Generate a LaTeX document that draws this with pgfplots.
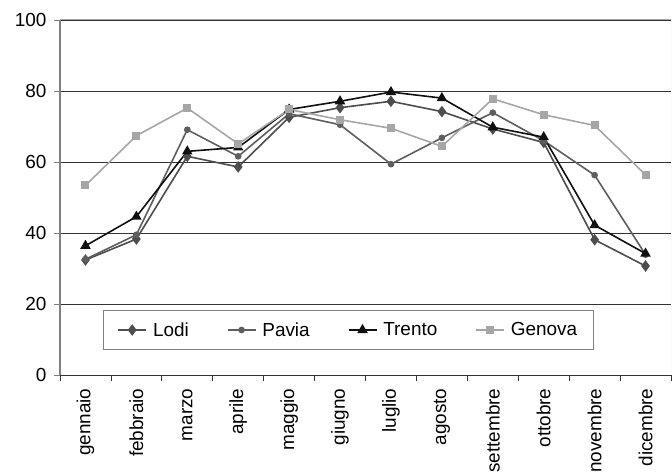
\documentclass[border=0pt]{standalone}
\usepackage{pgfplots}
\pgfplotsset{compat=1.18}
\usepackage{fontspec}
\setmainfont{Liberation Sans}

\definecolor{lodicol}{HTML}{4D4D4D}
\definecolor{paviacol}{HTML}{5E5E5E}
\definecolor{trentocol}{HTML}{101010}
\definecolor{genovacol}{HTML}{A6A6A6}

\begin{document}
\begin{tikzpicture}
\path[use as bounding box] (0bp,0bp) rectangle (672bp,473bp);
\begin{axis}[
  at={(60bp,98bp)}, anchor=south west,
  scale only axis,
  width=611bp, height=355bp,
  xmin=-0.5, xmax=11.5,
  ymin=0, ymax=100,
  ytick={0,20,...,100},
  xtick={0,...,11},
  xticklabels={gennaio,febbraio,marzo,aprile,maggio,giugno,luglio,agosto,settembre,ottobre,novembre,dicembre},
  minor xtick={-0.5,0.5,...,11.5},
  major x tick style={draw=none},
  minor x tick style={draw=black!80, line width=0.8bp},
  minor tick length=6bp,
  major tick length=6bp,
  tick align=outside,
  y tick style={draw=gray, line width=0.8bp},
  ymajorgrids,
  major grid style={draw=black!80, line width=0.8bp},
  axis x line*=bottom,
  axis y line*=left,
  x axis line style={draw=black!80, line width=0.8bp, -},
  y axis line style={draw=gray, line width=1.5bp, -},
  tick label style={font=\fontsize{19}{22}\selectfont},
  /pgf/number format/assume math mode=true,
  xticklabel style={rotate=90, anchor=east, yshift=0bp, xshift=-4bp},
  yticklabel style={xshift=-4bp},
  every axis plot/.append style={line width=1.6bp},
  legend columns=4,
  legend style={
    at={(rel axis cs:0.0704,0.0704)}, anchor=south west,
    draw=gray, line width=0.8bp,
    font=\fontsize{19}{22}\selectfont,
    inner xsep=14bp, inner ysep=10bp,
    /tikz/every odd column/.append style={column sep=4bp},
    /tikz/every even column/.append style={column sep=36bp},
  },
  legend cell align=left,
  legend image code/.code={\draw[mark repeat=2,mark phase=2,line width=1.6bp] plot coordinates {(0bp,0bp)(14bp,0bp)(28bp,0bp)};},
]
\addplot[color=lodicol, mark=diamond*, mark size=4.5bp] coordinates {
  (0,32.4) (1,38.3) (2,61.6) (3,58.6) (4,72.6) (5,75.3)
  (6,77.1) (7,74.2) (8,69.3) (9,65.5) (10,38.1) (11,30.7)};
\addlegendentry{Lodi}
\addplot[color=paviacol, mark=*, mark size=2.5bp] coordinates {
  (0,32.6) (1,39.5) (2,69.1) (3,61.6) (4,73.6) (5,70.5)
  (6,59.4) (7,66.8) (8,73.9) (9,66.0) (10,56.3) (11,33.9)};
\addlegendentry{Pavia}
\addplot[color=trentocol, mark=triangle*, mark size=4.5bp] coordinates {
  (0,36.4) (1,44.6) (2,63.0) (3,64.1) (4,74.8) (5,77.1)
  (6,79.7) (7,78.0) (8,69.8) (9,67.0) (10,42.2) (11,34.2)};
\addlegendentry{Trento}
\addplot[color=genovacol, mark=square*, mark size=3.2bp] coordinates {
  (0,53.4) (1,67.4) (2,75.2) (3,65.1) (4,74.8) (5,71.9)
  (6,69.5) (7,64.4) (8,77.8) (9,73.3) (10,70.3) (11,56.4)};
\addlegendentry{Genova}
\draw[gray!70, line width=1bp] (rel axis cs:0,1) -- (rel axis cs:1,1);
\draw[gray!30, line width=1bp] (rel axis cs:1,1) -- (rel axis cs:1,0);
\end{axis}
\end{tikzpicture}
\end{document}
